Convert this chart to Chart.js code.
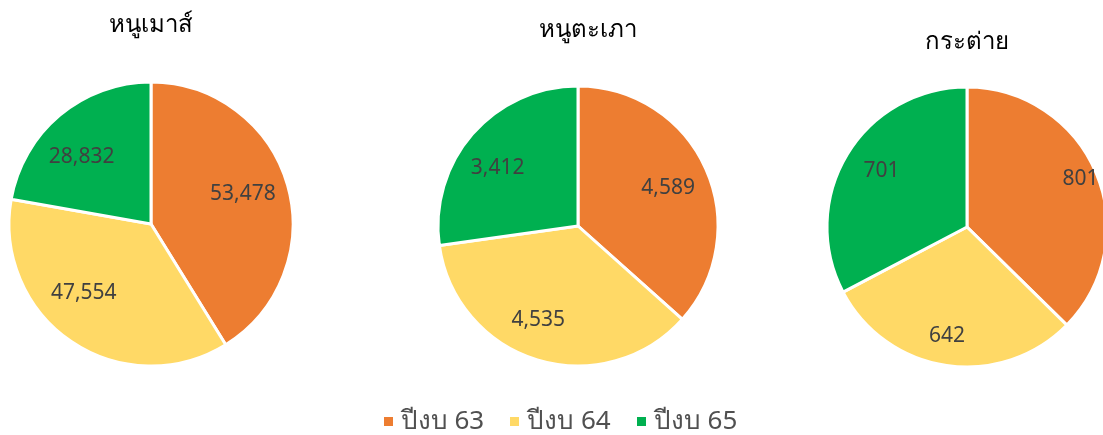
<!DOCTYPE html>
<html>
<head>
<meta charset="utf-8">
<script src="https://cdn.jsdelivr.net/npm/chart.js@4"></script>
<style>
  html, body { margin: 0; padding: 0; background: #fff; }
  #wrap { position: relative; width: 1103px; height: 435px; overflow: hidden; }
  .pie { position: absolute; width: 300px; height: 448px; }
  #legend { position: absolute; left: 0; width: 1121px; top: 399px; text-align: center;
            font-family: "Noto Sans", sans-serif; font-size: 26px; color: #505050; }
  #legend span.item { margin: 0 13px; white-space: nowrap; }
  #legend span.box { display: inline-block; width: 9px; height: 9px; margin-right: 8px; vertical-align: middle; position: relative; top: -1px; }
</style>
</head>
<body>
<div id="wrap">
  <div class="pie" style="left:1px; top:0px;"><canvas id="pie1"></canvas></div>
  <div class="pie" style="left:428px; top:2px;"><canvas id="pie2"></canvas></div>
  <div class="pie" style="left:817px; top:3px;"><canvas id="pie3"></canvas></div>
  <div id="legend"></div>
</div>
<script>
var seriesLabels = ['ปีงบ 63', 'ปีงบ 64', 'ปีงบ 65'];
var colors = ['#ED7D31', '#FFD966', '#00B050'];

var mouseTitle = 'หนูเมาส์';
var mouseValues = [53478, 47554, 28832];

var guineaTitle = 'หนูตะเภา';
var guineaValues = [4589, 4535, 3412];

var rabbitTitle = 'กระต่าย';
var rabbitValues = [801, 642, 701];

// draws the pie title and the value labels inside each slice
var pieText = {
  id: 'pieText',
  afterDatasetsDraw: function(chart, args, opts) {
    var c = chart.ctx;
    var meta = chart.getDatasetMeta(0);
    var data = chart.data.datasets[0].data;
    var first = meta.data[0];
    c.save();
    c.textAlign = 'center';
    c.textBaseline = 'middle';
    c.fillStyle = '#000';
    c.font = '24px "Noto Sans", sans-serif';
    c.fillText(opts.title, first.x + opts.titleDx, first.y - opts.titleOffset);
    c.fillStyle = '#404040';
    c.font = '21px "Noto Sans", sans-serif';
    meta.data.forEach(function(arc, i) {
      // best-fit style nudge around the slice middle
      var mid = (arc.startAngle + arc.endAngle) / 2 + opts.labelTurn[i] * Math.PI / 180;
      var d = arc.outerRadius * opts.labelDist[i];
      c.fillText(data[i].toLocaleString('en-US'), arc.x + Math.cos(mid) * d, arc.y + Math.sin(mid) * d);
    });
    c.restore();
  }
};

function makePie(id, title, values, radius, titleOffset, titleDx, labelDist, labelTurn) {
  return new Chart(document.getElementById(id), {
    type: 'pie',
    data: {
      labels: seriesLabels,
      datasets: [{
        data: values,
        backgroundColor: colors,
        borderColor: '#ffffff',
        borderWidth: 3
      }]
    },
    options: {
      responsive: true,
      maintainAspectRatio: false,
      animation: false,
      radius: radius,
      layout: { padding: 0 },
      plugins: {
        legend: { display: false },
        tooltip: { enabled: false },
        pieText: { title: title, titleOffset: titleOffset, titleDx: titleDx, labelDist: labelDist, labelTurn: labelTurn }
      }
    },
    plugins: [pieText]
  });
}

makePie('pie1', mouseTitle, mouseValues, 142, 199, 0, [0.68, 0.68, 0.68], [-2, 10, -6]);
makePie('pie2', guineaTitle, guineaValues, 140, 196, 10, [0.70, 0.73, 0.71], [1, 6, -5]);
makePie('pie3', rabbitTitle, rabbitValues, 140, 185, 0, [0.88, 0.79, 0.73], [0, 2, 2]);

var legend = document.getElementById('legend');
seriesLabels.forEach(function(lbl, i) {
  var item = document.createElement('span');
  item.className = 'item';
  var box = document.createElement('span');
  box.className = 'box';
  box.style.background = colors[i];
  item.appendChild(box);
  item.appendChild(document.createTextNode(lbl));
  legend.appendChild(item);
});
</script>
</body>
</html>
